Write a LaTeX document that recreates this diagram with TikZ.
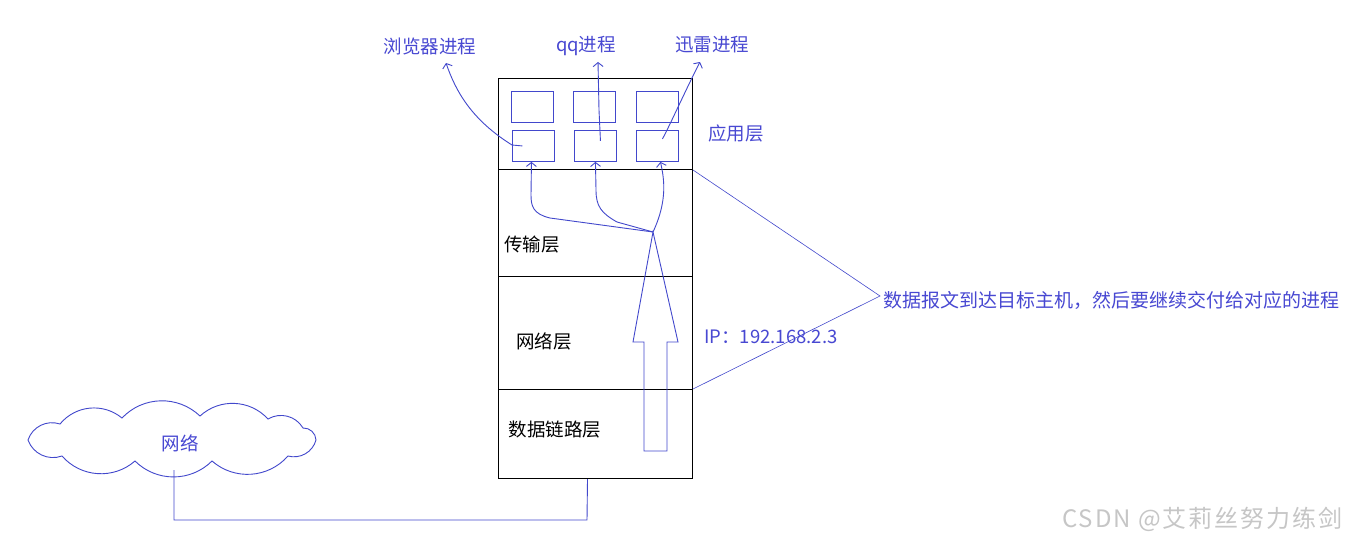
\documentclass[tikz,border=0pt]{standalone}
\usepackage{fontspec}
\setmainfont{Noto Sans CJK SC}
\usetikzlibrary{arrows.meta}
\definecolor{bl}{RGB}{66,72,204}
\definecolor{bt}{RGB}{72,72,210}
\begin{document}
\begin{tikzpicture}[x=1pt,y=-1pt,
 layer/.style={draw=black, line width=1pt, minimum width=194pt, inner sep=0pt, anchor=north west},
 pbox/.style={draw=bl, line width=0.9pt, minimum width=42pt, minimum height=31pt, inner sep=0pt, anchor=north west},
 lbl/.style={font=\fontsize{18.5}{20}\selectfont, inner sep=0pt},
 blbl/.style={lbl, text=bt},
 conn/.style={draw=bl, line width=0.9pt},
 harrow/.style={conn, -{Straight Barb[length=4pt,width=10pt]}},
 puff/.style={bend left=45},
]
\useasboundingbox (0,0) rectangle (1351,543);
\fill[white] (0,0) rectangle (1351,543);
% layers
\node[layer, minimum height=91pt] (app) at (498,78) {};
\node[layer, minimum height=107pt] (trans) at (498,169) {};
\node[layer, minimum height=113pt] (net) at (498,276) {};
\node[layer, minimum height=89pt] (link) at (498,389) {};
% process boxes
\node[pbox] (a1) at (511,91) {};
\node[pbox] (a2) at (573,91) {};
\node[pbox] (a3) at (636,91) {};
\node[pbox] (b1) at (512,130) {};
\node[pbox] (b2) at (574,130) {};
\node[pbox] (b3) at (636,130) {};
% labels
\node[blbl] (pb) at (430,46) {浏览器进程};
\node[blbl] (pq) at (586,46) {qq进程};
\node[blbl] (px) at (712,45) {迅雷进程};
\node[blbl] (appl) at (736,133) {应用层};
\node[lbl] (tl) at (532,245) {传输层};
\node[lbl] (nl) at (544,341) {网络层};
\node[lbl] (ll) at (555,430) {数据链路层};
\node[blbl, anchor=west, font=\fontsize{19}{20}\selectfont] (msg) at (883,300) {数据报文到达目标主机，然后要继续交付给对应的进程};
\node[blbl, anchor=west] (ip) at (704,337) {IP：192.168.2.3};
% message lines
\coordinate (apex) at (880,296);
\draw[conn, line width=0.6pt] (app.south east) -- (apex) -- (link.north east);
% process arrows
\coordinate (pbtip) at (446,63);
\coordinate (pqtip) at (598,62);
\coordinate (pxtip) at (700,62);
\draw[harrow] ([xshift=-11pt]b1.center) -- (512,145) .. controls (472,120) and (456,92) .. (pbtip);
\draw[harrow] ([shift={(5,-5)}]b2.center) -- (599,110) -- (pqtip);
\draw[harrow] ([shift={(5,-7)}]b3.center) .. controls (670,125) and (688,85) .. (pxtip);
% transport arrows
\coordinate (fork) at (653,232);
\draw[harrow] (fork) -- (550,218) .. controls (533,214) and (531,206) .. (531,195) -- ([xshift=-2pt]b1.south);
\draw[harrow] (fork) -- (617,222) .. controls (601,213) and (596,206) .. (596,190) -- (b2.south);
\draw[harrow] (fork) .. controls (668,200) and (664,178) .. ([xshift=3pt]b3.south);
% big hollow arrow
\draw[conn] (644,451) -- (644,342) -- (633,342) -- (fork) -- (678,342) -- (667,342) -- (667,451) -- cycle;
% cloud
\draw[conn] (316,440) to[puff] (288,456) to[puff] (212,461) to[puff] (135,461) to[puff] (62,456)
  to[puff] (28,440) to[puff] (60,424) to[puff] (122,418) to[puff] (200,416) to[puff] (268,419) to[puff] (303,428) to[puff] (316,440);
\node[blbl] (cl) at (180,443) {网络};
\coordinate (cbot) at (174,470);
\coordinate (bend) at (587,520);
\draw[conn] (cbot) |- (bend) -- ([xshift=-8pt]link.south);
% watermark
\node[font=\fontsize{24}{26}\selectfont\addfontfeature{LetterSpace=8}, text=gray!45, anchor=west, inner sep=0pt] (wm) at (1062,519) {CSDN @艾莉丝努力练剑};
\end{tikzpicture}
\end{document}
